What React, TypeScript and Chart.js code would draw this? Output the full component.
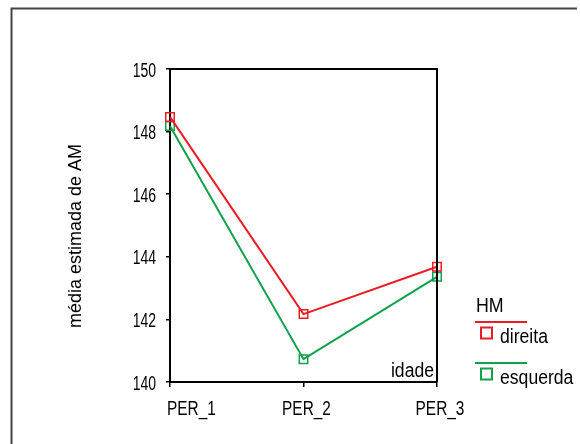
import React, { useEffect, useRef } from "react";
import { Chart, registerables } from "chart.js";

Chart.register(...registerables);

const categories = ["PER_1", "PER_2", "PER_3"];
const direita = [148.47, 142.17, 143.68];
const esquerda = [148.18, 140.73, 143.36];
const yTicks = [140, 142, 144, 146, 148, 150];
const seriesNames = ["direita", "esquerda"];
const legendTitle = "HM";
const yTitle = "média estimada de AM";
const xTitle = "idade";

const RED = "#ec1c24";
const GREEN = "#10a24a";
const SANS = "'Liberation Sans', Arial, sans-serif";

function narrowText(ctx: any, text: string, x: number, y: number, align: string, sx: number, size = 20) {
  ctx.save();
  ctx.font = `${size}px ${SANS}`;
  ctx.textBaseline = "alphabetic";
  ctx.textAlign = align;
  ctx.translate(x, y);
  ctx.scale(sx, 1);
  ctx.fillText(text, 0, 0);
  ctx.restore();
}

const decor = {
  id: "decor",
  afterDraw(chart: any) {
    const ctx = chart.ctx;
    const a = chart.chartArea;
    const xs = chart.scales.x;
    const ys = chart.scales.y;
    ctx.save();
    // outer frame
    ctx.strokeStyle = "#444";
    ctx.lineWidth = 2;
    ctx.beginPath();
    ctx.moveTo(11.5, 460);
    ctx.lineTo(11.5, 8.5);
    ctx.lineTo(577, 8.5);
    ctx.stroke();
    // plot box top & right
    ctx.strokeStyle = "#000";
    ctx.lineWidth = 2;
    ctx.beginPath();
    ctx.moveTo(a.left, a.top);
    ctx.lineTo(a.right, a.top);
    ctx.lineTo(a.right, a.bottom);
    ctx.stroke();
    ctx.fillStyle = "#000";
    // y tick labels
    yTicks.forEach((v) => {
      const py = ys.getPixelForValue(v);
      narrowText(ctx, String(v), 156, py + 7.5, "right", 0.7);
    });
    // x labels
    categories.forEach((c, i) => {
      const px = xs.getPixelForValue(i);
      if (i === 0) narrowText(ctx, c, px - 3, 415, "left", 0.77);
      else narrowText(ctx, c, px + 3, 415, "center", 0.77);
    });
    // idade
    narrowText(ctx, xTitle, a.right - 3, a.bottom - 5, "right", 0.88);
    // y title
    ctx.save();
    ctx.translate(81, 236);
    ctx.rotate(-Math.PI / 2);
    ctx.textAlign = "center";
    ctx.textBaseline = "alphabetic";
    ctx.font = `18px ${SANS}`;
    ctx.fillText(yTitle, 0, 0);
    ctx.restore();
    // legend
    narrowText(ctx, legendTitle, 476, 312, "left", 0.89);
    chart.data.datasets.forEach((ds: any, i: number) => {
      const y0 = 322 + i * 41;
      ctx.strokeStyle = ds.borderColor;
      ctx.lineWidth = 2;
      ctx.beginPath();
      ctx.moveTo(475, y0);
      ctx.lineTo(527, y0);
      ctx.stroke();
      ctx.strokeRect(481, y0 + 5.5, 11, 11);
      ctx.fillStyle = "#000";
      narrowText(ctx, ds.label, 500, y0 + 21, "left", 0.88);
    });
    ctx.restore();
  },
};

export default function App() {
  const ref = useRef<HTMLCanvasElement>(null);
  useEffect(() => {
    document.body.style.margin = "0";
    const chart = new Chart(ref.current!, {
      type: "line",
      data: {
        labels: categories,
        datasets: [
          {
            label: seriesNames[0],
            data: direita,
            borderColor: RED,
            backgroundColor: "transparent",
            borderWidth: 2,
            pointStyle: "rect",
            pointRadius: 6,
            pointBorderWidth: 1.5,
            pointBorderColor: RED,
            pointBackgroundColor: "transparent",
            tension: 0,
          },
          {
            label: seriesNames[1],
            data: esquerda,
            borderColor: GREEN,
            backgroundColor: "transparent",
            borderWidth: 2,
            pointStyle: "rect",
            pointRadius: 6,
            pointBorderWidth: 1.5,
            pointBorderColor: GREEN,
            pointBackgroundColor: "transparent",
            tension: 0,
          },
        ],
      },
      options: {
        responsive: false,
        animation: false,
        layout: { padding: { left: 0, top: 69, right: 143, bottom: 0 } },
        plugins: { legend: { display: false }, tooltip: { enabled: false } },
        scales: {
          x: {
            type: "category",
            offset: false,
            grid: { drawOnChartArea: false, tickLength: 5, color: "#000", lineWidth: 1.5, offset: false },
            border: { display: true, color: "#000", width: 2 },
            ticks: { display: false },
            afterFit: (s: any) => { s.height = 62; },
          },
          y: {
            min: 140,
            max: 150,
            afterBuildTicks: (s: any) => { s.ticks = yTicks.map((v) => ({ value: v })); },
            grid: { drawOnChartArea: false, tickLength: 4, color: "#000", lineWidth: 1.5 },
            border: { display: true, color: "#000", width: 2 },
            ticks: { display: false },
            afterFit: (s: any) => { s.width = 170; },
          },
        },
      },
      plugins: [decor],
    });
    return () => chart.destroy();
  }, []);
  return <canvas ref={ref} width={580} height={444} style={{ display: "block" }} />;
}
